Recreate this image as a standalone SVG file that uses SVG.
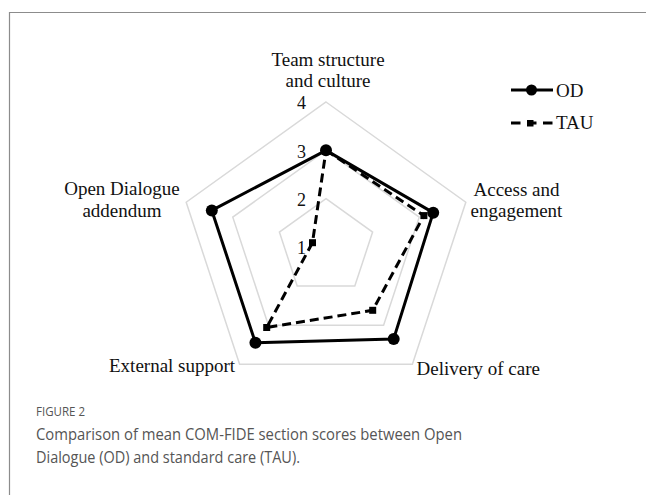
<svg xmlns="http://www.w3.org/2000/svg" width="646" height="495" viewBox="0 0 646 495">
<style>
.grid{fill:none;stroke:#d9d9d9;stroke-width:1.5}
.lbl{font-family:"Liberation Serif","Times New Roman",serif;font-size:19px;fill:#111}
.tick{font-family:"Liberation Serif","Times New Roman",serif;font-size:18px;fill:#111;text-anchor:end}
.od{fill:none;stroke:#000;stroke-width:3;stroke-linejoin:round}
.tau{fill:none;stroke:#000;stroke-width:3;stroke-dasharray:9 5}
.cap{font-family:"Open Sans","Liberation Sans",sans-serif;fill:#555}
</style>
<rect width="646" height="495" fill="#fff"/>
<path d="M9.5 495 V12.5 H646" fill="none" stroke="#8c8c8c" stroke-width="1.2"/>
<g id="grid">
<polygon class="grid" points="326,198.67 372.6,232.07 354.8,286.1 297.2,286.1 279.4,232.07"/>
<polygon class="grid" points="326,150.33 419.21,217.13 383.6,325.2 268.4,325.2 232.79,217.13"/>
<polygon class="grid" points="326,102 465.8,202.2 412.4,364.3 239.6,364.3 186.2,202.2"/>
</g>
<g id="ticks">
<text class="tick" x="306" y="109">4</text>
<text class="tick" x="306" y="157.5">3</text>
<text class="tick" x="306" y="206">2</text>
<text class="tick" x="306" y="254">1</text>
</g>
<g id="axis-labels">
<text class="lbl" x="328" y="66" text-anchor="middle">Team structure</text>
<text class="lbl" x="328" y="87" text-anchor="middle">and culture</text>
<text class="lbl" x="516.5" y="196" text-anchor="middle">Access and</text>
<text class="lbl" x="516.5" y="217" text-anchor="middle">engagement</text>
<text class="lbl" x="416.5" y="375">Delivery of care</text>
<text class="lbl" x="109" y="372">External support</text>
<text class="lbl" x="122" y="195" text-anchor="middle">Open Dialogue</text>
<text class="lbl" x="122" y="217" text-anchor="middle">addendum</text>
</g>
<g id="series-tau">
<polygon class="tau" points="326,150.33 423.87,215.64 372.66,310.34 266.67,327.55 312.48,242.67"/>
<rect x="420.4" y="212.1" width="7" height="7"/>
<rect x="369.2" y="306.8" width="7" height="7"/>
<rect x="263.2" y="324" width="7" height="7"/>
<rect x="309" y="239.2" width="7" height="7"/>
</g>
<g id="series-od">
<polygon class="od" points="326,150.33 433.19,212.65 393.68,338.89 255.43,342.79 211.82,210.41"/>
<circle cx="326" cy="150.33" r="6"/>
<circle cx="433.19" cy="212.65" r="6"/>
<circle cx="393.68" cy="338.89" r="6"/>
<circle cx="255.43" cy="342.79" r="6"/>
<circle cx="211.82" cy="210.41" r="6"/>
</g>
<g id="legend">
<line x1="511" y1="90" x2="553" y2="90" stroke="#000" stroke-width="3"/>
<circle cx="531.5" cy="90" r="5.5"/>
<text class="lbl" x="556" y="96.5">OD</text>
<line x1="511" y1="123" x2="552.5" y2="123" stroke="#000" stroke-width="3" stroke-dasharray="9.5 6.5"/>
<rect x="527" y="120" width="6.5" height="6.5"/>
<text class="lbl" x="556" y="129">TAU</text>
</g>
<g id="caption">
<text class="cap" x="36" y="416" font-size="13px" fill="#666" textLength="49" lengthAdjust="spacingAndGlyphs">FIGURE 2</text>
<text class="cap" x="36" y="440" font-size="17px" textLength="426" lengthAdjust="spacingAndGlyphs">Comparison of mean COM-FIDE section scores between Open</text>
<text class="cap" x="36" y="463" font-size="17px" textLength="264" lengthAdjust="spacingAndGlyphs">Dialogue (OD) and standard care (TAU).</text>
</g>
</svg>
